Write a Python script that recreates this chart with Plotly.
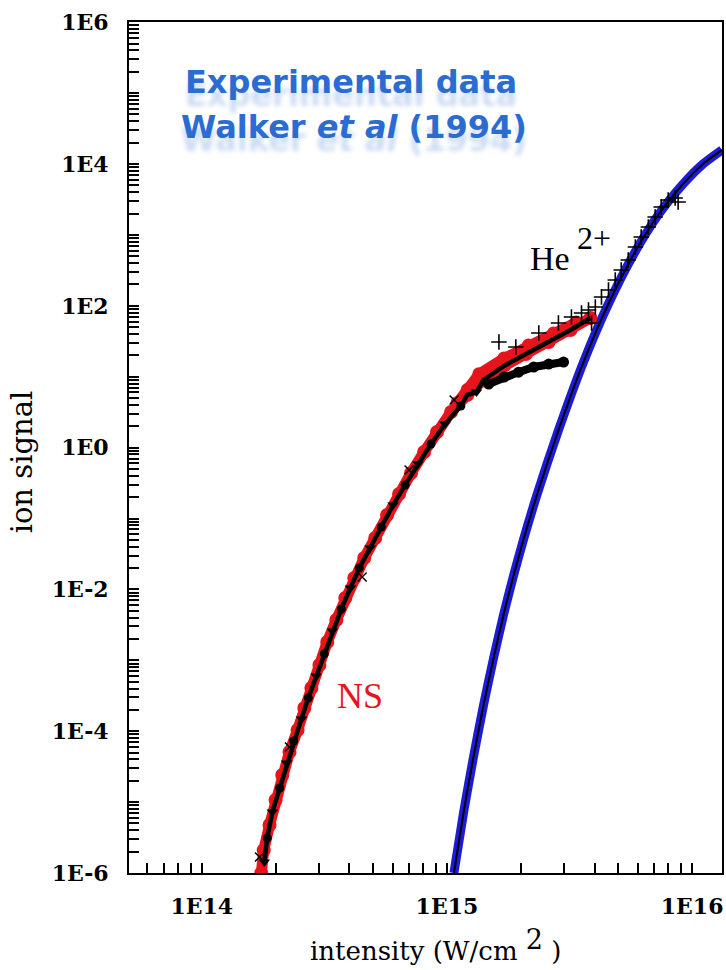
import plotly.graph_objects as go

# ---------------- data ----------------
# theory curve (blue with black centre line)
theory_x = [1.068e15, 1.172e15, 1.288e15, 1.414e15, 1.553e15, 1.705e15, 1.873e15,
            2.056e15, 2.322e15, 2.853e15, 3.606e15, 4.555e15, 5.757e15, 7.273e15,
            9.19e15, 1.108e16, 1.324e16]
theory_y = [1.0e-6, 7.49e-6, 4.62e-5, 2.42e-4, 1.11e-3, 4.50e-3, 1.60e-2,
            5.14e-2, 0.208, 1.77, 16.1, 106, 521, 1910, 5220, 1.0e4, 1.58e4]

# "NS" red data band
ns_x = [1.75e14, 1.79e14, 1.89e14, 2.00e14, 2.13e14, 2.28e14, 2.46e14, 2.62e14,
        2.80e14, 3.02e14, 3.25e14, 3.54e14, 3.85e14, 4.19e14, 4.60e14, 5.10e14,
        5.70e14, 6.38e14, 7.14e14, 8.07e14, 9.11e14, 1.04e15, 1.21e15, 1.41e15,
        1.71e15, 2.10e15, 2.60e15, 3.19e15, 3.85e15]
ns_y = [1.0e-6, 2.1e-6, 4.75e-6, 1.07e-5, 2.41e-5, 5.09e-5, 1.04e-4, 2.12e-4,
        4.06e-4, 8.59e-4, 1.81e-3, 3.70e-3, 7.56e-3, 1.45e-2, 2.77e-2, 5.31e-2,
        0.112, 0.222, 0.438, 0.867, 1.66, 3.18, 5.52, 8.98,
        14.2, 20.9, 30.8, 45.6, 67.3]
# upper edge of the red band at high intensity
ns_up_x = [1.10e15, 1.21e15, 1.35e15, 1.71e15, 2.15e15, 2.72e15, 3.37e15]
ns_up_y = [4.3, 6.6, 11.0, 18.4, 28.0, 41.3, 59.0]

# black experimental points (triangles)
tri_x = [1.80e14, 1.94e14, 2.22e14, 2.55e14, 2.93e14, 3.41e14, 4.04e14, 4.86e14,
         6.03e14, 7.62e14, 9.82e14, 1.32e15]
tri_y = [1.43e-6, 7.24e-6, 3.56e-5, 1.49e-4, 6.01e-4, 2.59e-3, 1.05e-2, 3.84e-2,
         0.155, 0.587, 2.15, 6.08]
# black experimental points (circles)
circ_x = [1.85e14, 2.08e14, 2.37e14, 2.72e14, 3.16e14, 3.71e14, 4.39e14, 5.40e14,
          6.75e14, 8.61e14, 1.14e15]
circ_y = [3.12e-6, 1.58e-5, 7.28e-5, 2.94e-4, 1.23e-3, 5.30e-3, 2.00e-2, 7.59e-2,
          0.296, 1.12, 3.86]
# saturating black branch
branch_x = [1.48e15, 1.71e15, 1.96e15, 2.26e15, 2.60e15, 2.99e15]
branch_y = [7.89, 9.90, 11.6, 13.7, 15.1, 16.1]
# black "x" markers
xm_x = [1.72e14, 2.28e14, 4.51e14, 7.01e14, 1.07e15]
xm_y = [1.68e-6, 5.98e-5, 1.50e-2, 0.483, 4.69]
# black "+" markers (upper band and He2+)
plus_x = [1.63e15, 1.91e15, 2.37e15, 2.85e15, 3.22e15,
          3.54e15, 3.78e15, 4.03e15, 3.89e15, 4.27e15, 4.56e15, 4.86e15, 5.14e15,
          5.49e15, 5.87e15, 6.20e15, 6.63e15, 7.07e15, 7.48e15, 7.99e15, 8.53e15, 8.77e15]
plus_y = [30.9, 26.2, 41.3, 57.2, 69.5,
          79.1, 87.3, 96.2, 57.2, 133, 167, 231, 320,
          443, 675, 934, 1290, 1790, 2470, 3100, 3320, 2910]

# axis ticks
x_tickvals = [6e13, 7e13, 8e13, 9e13, 1e14, 2e14, 3e14, 4e14, 5e14, 6e14, 7e14, 8e14, 9e14,
              1e15, 2e15, 3e15, 4e15, 5e15, 6e15, 7e15, 8e15, 9e15, 1e16]
x_labels = {1e14: "1E14", 1e15: "1E15", 1e16: "1E16"}
y_decades = list(range(-6, 7))
y_label_decades = [-6, -4, -2, 0, 2, 4, 6]

# ---------------- figure ----------------
W, H = 726, 970
L, R, T, B = 129, 2, 22, 97
PW, PH = W - L - R, H - T - B

def paper(px, py):
    return (px - L) / PW, (H - B - py) / PH

RED = "#e8141c"
BLUE = "#1c1cd8"
TITLE_BLUE = "#2a6cd2"

core = sorted(zip(tri_x + circ_x + ns_x[22:], tri_y + circ_y + ns_y[22:]))
core_x = [p[0] for p in core]
core_y = [p[1] for p in core]

fig = go.Figure()
fig.add_trace(go.Scatter(x=theory_x, y=theory_y, mode="lines",
                         line=dict(color=BLUE, width=9, shape="spline", smoothing=0.6)))
fig.add_trace(go.Scatter(x=theory_x, y=theory_y, mode="lines",
                         line=dict(color="black", width=2, shape="spline", smoothing=0.6)))
fig.add_trace(go.Scatter(x=ns_x, y=ns_y, mode="lines+markers",
                         line=dict(color=RED, width=11),
                         marker=dict(color=RED, size=14, symbol="circle")))
fig.add_trace(go.Scatter(x=ns_up_x, y=ns_up_y, mode="lines+markers",
                         line=dict(color=RED, width=10),
                         marker=dict(color=RED, size=13, symbol="circle")))
fig.add_trace(go.Scatter(x=core_x, y=core_y, mode="lines",
                         line=dict(color="black", width=4.5)))
fig.add_trace(go.Scatter(x=tri_x, y=tri_y, mode="markers",
                         marker=dict(color="black", size=10, symbol="triangle-down")))
fig.add_trace(go.Scatter(x=circ_x, y=circ_y, mode="markers",
                         marker=dict(color="black", size=9, symbol="circle")))
fig.add_trace(go.Scatter(x=branch_x, y=branch_y, mode="lines+markers",
                         line=dict(color="black", width=8),
                         marker=dict(color="black", size=11, symbol="circle")))
fig.add_trace(go.Scatter(x=xm_x, y=xm_y, mode="markers",
                         marker=dict(size=9, symbol="x-thin",
                                     line=dict(color="black", width=1.5))))
fig.add_trace(go.Scatter(x=plus_x, y=plus_y, mode="markers",
                         marker=dict(size=11, symbol="cross-thin",
                                     line=dict(color="black", width=1.6))))

tickfont = dict(family="DejaVu Serif", size=22, color="black", weight="bold")
fig.update_xaxes(type="log", range=[13.7033, 16.122], tickmode="array",
                 tickvals=x_tickvals,
                 ticktext=[x_labels.get(v, "") for v in x_tickvals],
                 ticks="inside", ticklen=10, tickwidth=1.5, tickcolor="black",
                 showline=True, linecolor="black", linewidth=2, mirror=True,
                 showgrid=False, zeroline=False, tickfont=tickfont,
                 ticklabelstandoff=13)
y_tickvals, y_ticktext = [], []
for d in y_decades:
    for k in range(1, 10):
        if d == 6 and k > 1:
            break
        y_tickvals.append(k * 10.0 ** d)
        y_ticktext.append(f"1E{d}" if (k == 1 and d in y_label_decades) else "")
fig.update_yaxes(type="log", range=[-6, 6.003], tickmode="array",
                 tickvals=y_tickvals, ticktext=y_ticktext,
                 ticks="inside", ticklen=10, tickwidth=1.5, tickcolor="black",
                 showline=True, linecolor="black", linewidth=2, mirror=True,
                 showgrid=False, zeroline=False, tickfont=tickfont,
                 ticklabelstandoff=14)

ann = []
def add_text(text, px, py, size, color="black", family="DejaVu Serif", shadow=None, **kw):
    xp, yp = paper(px, py)
    font = dict(family=family, size=size, color=color)
    if shadow:
        font["shadow"] = shadow
    ann.append(dict(text=text, x=xp, y=yp, xref="paper", yref="paper",
                    showarrow=False, xanchor="center", yanchor="middle",
                    font=font, **kw))

add_text("ion signal", 22, 462, 29, textangle=-90)
add_text("intensity (W/cm <sup><span style='font-size:27px'>2</span></sup> )", 437, 945, 26)
add_text("He", 551, 258, 34, family="Liberation Serif")
add_text("2+", 596, 238, 32, family="Liberation Serif")
add_text("NS", 361, 696, 36, color=RED, family="Liberation Serif")
glow = "0px 13px 4px rgba(90,140,215,0.30)"
add_text("<b>Experimental data</b>", 352, 82, 32, color=TITLE_BLUE,
         family="DejaVu Sans", shadow=glow)
add_text("<b>Walker <i>et al</i> (1994)</b>", 355, 127, 32, color=TITLE_BLUE,
         family="DejaVu Sans", shadow=glow)

fig.update_layout(width=W, height=H, margin=dict(l=L, r=R, t=T, b=B),
                  plot_bgcolor="white", paper_bgcolor="white",
                  showlegend=False, annotations=ann)
fig.write_html("out.html")
